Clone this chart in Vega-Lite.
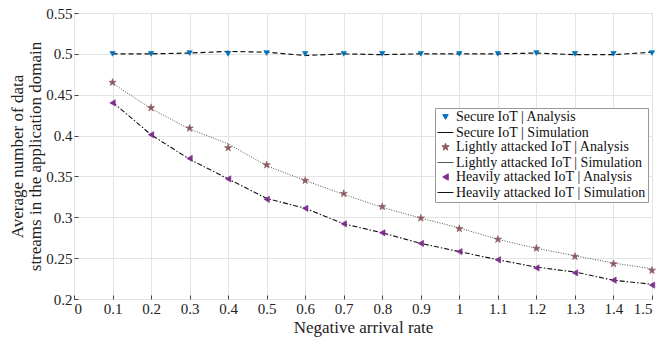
{
  "$schema": "https://vega.github.io/schema/vega-lite/v6.json",
  "width": 578,
  "height": 286,
  "autosize": "none",
  "padding": {"left": 74, "top": 13, "right": 7, "bottom": 46},
  "background": "white",
  "config": {
    "font": "Liberation Serif",
    "view": {"stroke": "#333333", "strokeWidth": 1},
    "axis": {
      "labelFont": "Liberation Serif", "titleFont": "Liberation Serif",
      "labelFontSize": 15, "titleFontSize": 17, "titleFontWeight": "normal",
      "labelColor": "#222222", "titleColor": "#222222",
      "gridColor": "#e4e4e4", "domain": false, "tickColor": "#444444", "tickSize": -4
    },
    "legend": {"symbolStrokeWidth": 1, "symbolOpacity": 1}
  },
  "datasets": {
    "d": [
      {"x": 0.1, "y": 0.5, "s": "Secure IoT | Analysis"},
      {"x": 0.2, "y": 0.5, "s": "Secure IoT | Analysis"},
      {"x": 0.3, "y": 0.501, "s": "Secure IoT | Analysis"},
      {"x": 0.4, "y": 0.5, "s": "Secure IoT | Analysis"},
      {"x": 0.5, "y": 0.501, "s": "Secure IoT | Analysis"},
      {"x": 0.6, "y": 0.5, "s": "Secure IoT | Analysis"},
      {"x": 0.7, "y": 0.5, "s": "Secure IoT | Analysis"},
      {"x": 0.8, "y": 0.5, "s": "Secure IoT | Analysis"},
      {"x": 0.9, "y": 0.5, "s": "Secure IoT | Analysis"},
      {"x": 1.0, "y": 0.5, "s": "Secure IoT | Analysis"},
      {"x": 1.1, "y": 0.5, "s": "Secure IoT | Analysis"},
      {"x": 1.2, "y": 0.501, "s": "Secure IoT | Analysis"},
      {"x": 1.3, "y": 0.5, "s": "Secure IoT | Analysis"},
      {"x": 1.4, "y": 0.5, "s": "Secure IoT | Analysis"},
      {"x": 1.5, "y": 0.501, "s": "Secure IoT | Analysis"},
      {"x": 0.1, "y": 0.5, "s": "Secure IoT | Simulation"},
      {"x": 0.2, "y": 0.5, "s": "Secure IoT | Simulation"},
      {"x": 0.3, "y": 0.501, "s": "Secure IoT | Simulation"},
      {"x": 0.4, "y": 0.503, "s": "Secure IoT | Simulation"},
      {"x": 0.5, "y": 0.502, "s": "Secure IoT | Simulation"},
      {"x": 0.6, "y": 0.498, "s": "Secure IoT | Simulation"},
      {"x": 0.7, "y": 0.5, "s": "Secure IoT | Simulation"},
      {"x": 0.8, "y": 0.499, "s": "Secure IoT | Simulation"},
      {"x": 0.9, "y": 0.5, "s": "Secure IoT | Simulation"},
      {"x": 1.0, "y": 0.5, "s": "Secure IoT | Simulation"},
      {"x": 1.1, "y": 0.5, "s": "Secure IoT | Simulation"},
      {"x": 1.2, "y": 0.501, "s": "Secure IoT | Simulation"},
      {"x": 1.3, "y": 0.499, "s": "Secure IoT | Simulation"},
      {"x": 1.4, "y": 0.499, "s": "Secure IoT | Simulation"},
      {"x": 1.5, "y": 0.502, "s": "Secure IoT | Simulation"},
      {"x": 0.1, "y": 0.465, "s": "Lightly attacked IoT | Analysis"},
      {"x": 0.2, "y": 0.434, "s": "Lightly attacked IoT | Analysis"},
      {"x": 0.3, "y": 0.409, "s": "Lightly attacked IoT | Analysis"},
      {"x": 0.4, "y": 0.385, "s": "Lightly attacked IoT | Analysis"},
      {"x": 0.5, "y": 0.364, "s": "Lightly attacked IoT | Analysis"},
      {"x": 0.6, "y": 0.345, "s": "Lightly attacked IoT | Analysis"},
      {"x": 0.7, "y": 0.329, "s": "Lightly attacked IoT | Analysis"},
      {"x": 0.8, "y": 0.313, "s": "Lightly attacked IoT | Analysis"},
      {"x": 0.9, "y": 0.299, "s": "Lightly attacked IoT | Analysis"},
      {"x": 1.0, "y": 0.286, "s": "Lightly attacked IoT | Analysis"},
      {"x": 1.1, "y": 0.273, "s": "Lightly attacked IoT | Analysis"},
      {"x": 1.2, "y": 0.262, "s": "Lightly attacked IoT | Analysis"},
      {"x": 1.3, "y": 0.252, "s": "Lightly attacked IoT | Analysis"},
      {"x": 1.4, "y": 0.243, "s": "Lightly attacked IoT | Analysis"},
      {"x": 1.5, "y": 0.235, "s": "Lightly attacked IoT | Analysis"},
      {"x": 0.1, "y": 0.464, "s": "Lightly attacked IoT | Simulation"},
      {"x": 0.2, "y": 0.433, "s": "Lightly attacked IoT | Simulation"},
      {"x": 0.3, "y": 0.408, "s": "Lightly attacked IoT | Simulation"},
      {"x": 0.4, "y": 0.39, "s": "Lightly attacked IoT | Simulation"},
      {"x": 0.5, "y": 0.363, "s": "Lightly attacked IoT | Simulation"},
      {"x": 0.6, "y": 0.345, "s": "Lightly attacked IoT | Simulation"},
      {"x": 0.7, "y": 0.328, "s": "Lightly attacked IoT | Simulation"},
      {"x": 0.8, "y": 0.312, "s": "Lightly attacked IoT | Simulation"},
      {"x": 0.9, "y": 0.299, "s": "Lightly attacked IoT | Simulation"},
      {"x": 1.0, "y": 0.287, "s": "Lightly attacked IoT | Simulation"},
      {"x": 1.1, "y": 0.273, "s": "Lightly attacked IoT | Simulation"},
      {"x": 1.2, "y": 0.262, "s": "Lightly attacked IoT | Simulation"},
      {"x": 1.3, "y": 0.253, "s": "Lightly attacked IoT | Simulation"},
      {"x": 1.4, "y": 0.244, "s": "Lightly attacked IoT | Simulation"},
      {"x": 1.5, "y": 0.237, "s": "Lightly attacked IoT | Simulation"},
      {"x": 0.1, "y": 0.44, "s": "Heavily attacked IoT | Analysis"},
      {"x": 0.2, "y": 0.401, "s": "Heavily attacked IoT | Analysis"},
      {"x": 0.3, "y": 0.372, "s": "Heavily attacked IoT | Analysis"},
      {"x": 0.4, "y": 0.347, "s": "Heavily attacked IoT | Analysis"},
      {"x": 0.5, "y": 0.322, "s": "Heavily attacked IoT | Analysis"},
      {"x": 0.6, "y": 0.311, "s": "Heavily attacked IoT | Analysis"},
      {"x": 0.7, "y": 0.292, "s": "Heavily attacked IoT | Analysis"},
      {"x": 0.8, "y": 0.281, "s": "Heavily attacked IoT | Analysis"},
      {"x": 0.9, "y": 0.268, "s": "Heavily attacked IoT | Analysis"},
      {"x": 1.0, "y": 0.258, "s": "Heavily attacked IoT | Analysis"},
      {"x": 1.1, "y": 0.248, "s": "Heavily attacked IoT | Analysis"},
      {"x": 1.2, "y": 0.238, "s": "Heavily attacked IoT | Analysis"},
      {"x": 1.3, "y": 0.232, "s": "Heavily attacked IoT | Analysis"},
      {"x": 1.4, "y": 0.223, "s": "Heavily attacked IoT | Analysis"},
      {"x": 1.5, "y": 0.217, "s": "Heavily attacked IoT | Analysis"},
      {"x": 0.1, "y": 0.441, "s": "Heavily attacked IoT | Simulation"},
      {"x": 0.2, "y": 0.401, "s": "Heavily attacked IoT | Simulation"},
      {"x": 0.3, "y": 0.371, "s": "Heavily attacked IoT | Simulation"},
      {"x": 0.4, "y": 0.347, "s": "Heavily attacked IoT | Simulation"},
      {"x": 0.5, "y": 0.323, "s": "Heavily attacked IoT | Simulation"},
      {"x": 0.6, "y": 0.311, "s": "Heavily attacked IoT | Simulation"},
      {"x": 0.7, "y": 0.292, "s": "Heavily attacked IoT | Simulation"},
      {"x": 0.8, "y": 0.281, "s": "Heavily attacked IoT | Simulation"},
      {"x": 0.9, "y": 0.268, "s": "Heavily attacked IoT | Simulation"},
      {"x": 1.0, "y": 0.258, "s": "Heavily attacked IoT | Simulation"},
      {"x": 1.1, "y": 0.248, "s": "Heavily attacked IoT | Simulation"},
      {"x": 1.2, "y": 0.239, "s": "Heavily attacked IoT | Simulation"},
      {"x": 1.3, "y": 0.233, "s": "Heavily attacked IoT | Simulation"},
      {"x": 1.4, "y": 0.223, "s": "Heavily attacked IoT | Simulation"},
      {"x": 1.5, "y": 0.218, "s": "Heavily attacked IoT | Simulation"}
    ]
  },
  "data": {"name": "d"},
  "encoding": {
    "x": {"field": "x", "type": "quantitative",
      "scale": {"domain": [0, 1.5], "nice": false},
      "axis": {"title": "Negative arrival rate", "grid": true, "format": ".1~f",
        "labelPadding": 6, "titlePadding": 3,
        "values": [0,0.1,0.2,0.3,0.4,0.5,0.6,0.7,0.8,0.9,1,1.1,1.2,1.3,1.4,1.5]}},
    "y": {"field": "y", "type": "quantitative",
      "scale": {"domain": [0.2, 0.55], "nice": false, "zero": false},
      "axis": {"title": ["Average number of data", "streams in the application domain"],
        "grid": true, "format": ".2~f", "titleLineHeight": 18, "labelPadding": 6, "titlePadding": 1,
        "values": [0.2,0.25,0.3,0.35,0.4,0.45,0.5,0.55]}}
  },
  "layer": [
    {
      "transform": [{"filter": "datum.s === 'Secure IoT | Simulation'"}],
      "mark": {"type": "line", "strokeWidth": 1.2, "color": "#111111", "strokeDash": [5, 3]}
    },
    {
      "transform": [{"filter": "datum.s === 'Lightly attacked IoT | Simulation'"}],
      "mark": {"type": "line", "strokeWidth": 1, "color": "#555555", "strokeDash": [1, 1.5]}
    },
    {
      "transform": [{"filter": "datum.s === 'Heavily attacked IoT | Simulation'"}],
      "mark": {"type": "line", "strokeWidth": 1.1, "color": "#111111", "strokeDash": [5, 2, 1.5, 2]}
    },
    {
      "transform": [{"filter": "indexof(datum.s, 'Analysis') >= 0"}],
      "mark": {"type": "point", "filled": true, "opacity": 1, "strokeWidth": 0.6},
      "encoding": {
        "color": {"field": "s", "type": "nominal",
          "scale": {
            "domain": ["Secure IoT | Analysis", "Secure IoT | Simulation", "Lightly attacked IoT | Analysis", "Lightly attacked IoT | Simulation", "Heavily attacked IoT | Analysis", "Heavily attacked IoT | Simulation"],
            "range": ["#0072BD", "#111111", "#8C5A60", "#555555", "#7E2F8E", "#111111"]},
          "legend": {
            "title": null, "orient": "none", "legendX": 361, "legendY": 95,
            "labelFont": "Liberation Serif", "labelFontSize": 14, "labelColor": "#111111",
            "labelLimit": 400, "strokeColor": "#999999", "fillColor": "white",
            "padding": 2, "rowPadding": 0, "labelOffset": 2, "symbolStrokeWidth": 1
          }},
        "stroke": {"field": "s", "type": "nominal",
          "scale": {
            "domain": ["Secure IoT | Analysis", "Secure IoT | Simulation", "Lightly attacked IoT | Analysis", "Lightly attacked IoT | Simulation", "Heavily attacked IoT | Analysis", "Heavily attacked IoT | Simulation"],
            "range": ["#0072BD", "#111111", "#8C5A60", "#555555", "#7E2F8E", "#111111"]},
          "legend": {"title": null}},
        "shape": {"field": "s", "type": "nominal",
          "scale": {
            "domain": ["Secure IoT | Analysis", "Secure IoT | Simulation", "Lightly attacked IoT | Analysis", "Lightly attacked IoT | Simulation", "Heavily attacked IoT | Analysis", "Heavily attacked IoT | Simulation"],
            "range": ["triangle-down", "stroke", "M0,-1L0.2245,-0.309L0.951,-0.309L0.363,0.118L0.588,0.809L0,0.382L-0.588,0.809L-0.363,0.118L-0.951,-0.309L-0.2245,-0.309Z", "stroke", "triangle-left", "stroke"]},
          "legend": {"title": null}},
        "size": {"field": "s", "type": "nominal",
          "scale": {
            "type": "ordinal",
            "domain": ["Secure IoT | Analysis", "Secure IoT | Simulation", "Lightly attacked IoT | Analysis", "Lightly attacked IoT | Simulation", "Heavily attacked IoT | Analysis", "Heavily attacked IoT | Simulation"],
            "range": [30, 256, 60, 256, 40, 256]},
          "legend": {"title": null}}
      }
    }
  ]
}
